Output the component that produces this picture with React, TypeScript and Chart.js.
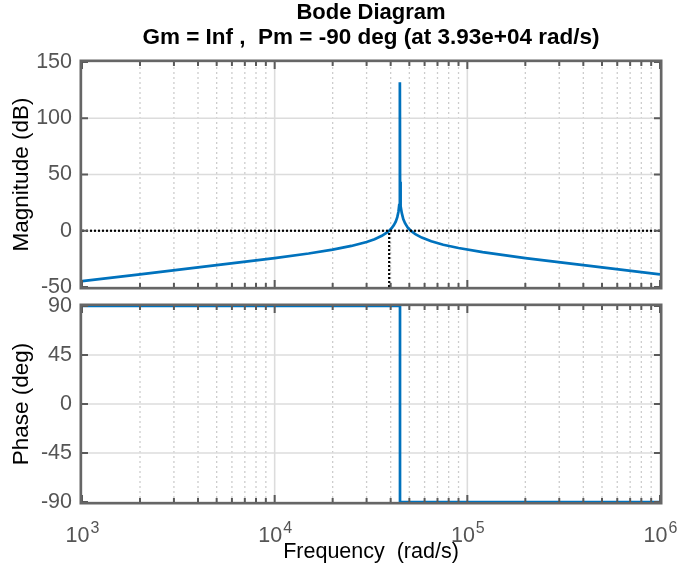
import React, { useEffect, useRef } from 'react';
import { Chart, registerables } from 'chart.js';

Chart.register(...registerables);

// ---------- data ----------
const magFreq = [
  1000, 2000, 5000, 10000, 15000, 20000, 25000, 30000, 33000, 36000, 38000, 39300,
  40500, 41500, 42500, 43300, 43900, 44300, 44550, 44680, 44721, 44760, 44900,
  45200, 45700, 46500, 47500, 49000, 51000, 54000, 58000, 65000, 75000, 90000,
  120000, 200000, 500000, 1000000,
];
const magDb = [
  -44.7, -38.7, -30.6, -24.3, -20.2, -16.8, -13.5, -10.0, -7.5, -4.5, -2.0, 0.0,
  2.3, 4.8, 8.1, 12.1, 16.9, 22.7, 30.6, 42.9, 132.0, 43.5, 30.3,
  21.7, 15.6, 10.4, 6.7, 3.0, -0.1, -3.3, -6.1, -9.4, -12.4, -15.3,
  -19.0, -24.3, -32.6, -38.7,
];
const phaseFreq = [1000, 44721, 44721, 1000000];
const phaseDeg = [90, 90, -90, -90];
const zeroLineFreq = [1000, 1000000];
const zeroLineDb = [0, 0];
const crossFreq = [39300, 39300];
const crossDb = [-50, 0];

const decades = [1000, 10000, 100000, 1000000];
const decadeExponents = ['3', '4', '5', '6'];
const minorMultipliers = [2, 3, 4, 5, 6, 7, 8, 9];
const magRange = [-50, 150];
const magStep = 50;
const phaseRange = [-90, 90];
const phaseStep = 45;
const titleLines = ['Bode Diagram', 'Gm = Inf ,  Pm = -90 deg (at 3.93e+04 rad/s)'];
const magLabel = 'Magnitude (dB)';
const phaseLabel = 'Phase (deg)';
const freqLabel = 'Frequency  (rad/s)';

// ---------- styles ----------
const FONT = "'Liberation Sans', Arial, Helvetica, sans-serif";
const BLUE = '#0072BD';
const TICK_COLOR = '#555555';
const BOX_COLOR = '#666666';

const toPts = (xs: number[], ys: number[]) => xs.map((x, i) => ({ x, y: ys[i] }));

const framePlugin = {
  id: 'frame',
  beforeDatasetsDraw(chart: any) {
    const { ctx, chartArea: a, scales } = chart;
    const x = scales.x;
    const y = scales.y;
    ctx.save();
    // minor dotted grid
    ctx.strokeStyle = '#cdcdcd';
    ctx.lineWidth = 1.3;
    ctx.setLineDash([2, 3]);
    for (const d of decades.slice(0, -1)) {
      for (const m of minorMultipliers) {
        const px = x.getPixelForValue(d * m);
        ctx.beginPath();
        ctx.moveTo(px, a.top);
        ctx.lineTo(px, a.bottom);
        ctx.stroke();
      }
    }
    // major grid
    ctx.setLineDash([]);
    ctx.strokeStyle = '#dcdcdc';
    ctx.lineWidth = 1.6;
    for (const d of decades) {
      const px = x.getPixelForValue(d);
      ctx.beginPath();
      ctx.moveTo(px, a.top);
      ctx.lineTo(px, a.bottom);
      ctx.stroke();
    }
    for (const t of y.ticks) {
      const py = y.getPixelForValue(t.value);
      ctx.beginPath();
      ctx.moveTo(a.left, py);
      ctx.lineTo(a.right, py);
      ctx.stroke();
    }
    ctx.restore();
  },
  afterDatasetsDraw(chart: any) {
    const { ctx, chartArea: a, scales } = chart;
    const x = scales.x;
    const y = scales.y;
    ctx.save();
    ctx.strokeStyle = '#5a5a5a';
    ctx.lineWidth = 2;
    const seg = (x1: number, y1: number, x2: number, y2: number) => {
      ctx.beginPath();
      ctx.moveTo(x1, y1);
      ctx.lineTo(x2, y2);
      ctx.stroke();
    };
    for (const t of y.ticks) {
      const py = y.getPixelForValue(t.value);
      seg(a.left, py, a.left + 6, py);
      seg(a.right - 6, py, a.right, py);
    }
    for (const d of decades) {
      const px = x.getPixelForValue(d);
      seg(px, a.top, px, a.top + 7);
      seg(px, a.bottom - 7, px, a.bottom);
    }
    for (const d of decades.slice(0, -1)) {
      for (const m of minorMultipliers) {
        const px = x.getPixelForValue(d * m);
        seg(px, a.top, px, a.top + 4);
        seg(px, a.bottom - 4, px, a.bottom);
      }
    }
    ctx.strokeStyle = BOX_COLOR;
    ctx.lineWidth = 2.5;
    ctx.strokeRect(a.left - 1.25, a.top - 1.25, a.width + 2.5, a.height + 2.5);
    ctx.restore();
  },
};

const titlePlugin = {
  id: 'bodeTitle',
  afterDraw(chart: any) {
    const { ctx, chartArea: a } = chart;
    const cx = (a.left + a.right) / 2;
    ctx.save();
    ctx.fillStyle = '#000';
    ctx.font = `bold 22px ${FONT}`;
    ctx.textAlign = 'center';
    ctx.textBaseline = 'middle';
    ctx.fillText(titleLines[0], cx, 13);
    ctx.font = `bold 22.5px ${FONT}`;
    ctx.fillText(titleLines[1], cx, 38);
    ctx.restore();
  },
};

const xLabelsPlugin = {
  id: 'xLabels',
  afterDraw(chart: any) {
    const { ctx, chartArea: a, scales } = chart;
    const x = scales.x;
    ctx.save();
    ctx.fillStyle = TICK_COLOR;
    ctx.textBaseline = 'alphabetic';
    ctx.textAlign = 'left';
    const baseFont = `21.5px ${FONT}`;
    const expFont = `16px ${FONT}`;
    decades.forEach((d, i) => {
      const px = x.getPixelForValue(d);
      ctx.font = baseFont;
      const wb = ctx.measureText('10').width;
      ctx.font = expFont;
      const we = ctx.measureText(decadeExponents[i]).width;
      const left = px - (wb + we) / 2;
      ctx.font = baseFont;
      ctx.fillText('10', left, a.bottom + 40);
      ctx.font = expFont;
      ctx.fillText(decadeExponents[i], left + wb + 1, a.bottom + 31);
    });
    ctx.fillStyle = '#000';
    ctx.font = `21.5px ${FONT}`;
    ctx.textAlign = 'center';
    ctx.fillText(freqLabel, (a.left + a.right) / 2, a.bottom + 56);
    ctx.restore();
  },
};

const yAxis = (range: number[], step: number, label: string) => ({
  type: 'linear',
  min: range[0],
  max: range[1],
  ticks: {
    stepSize: step,
    color: TICK_COLOR,
    font: { family: FONT, size: 21.5 },
    padding: 10,
  },
  grid: { display: false, drawTicks: false },
  border: { display: false },
  title: {
    display: true,
    text: label,
    color: '#000',
    font: { family: FONT, size: 22.5 },
    padding: { top: 8, bottom: 0 },
  },
  afterFit: (s: any) => {
    s.width = 82;
    s.paddingTop = 0;
    s.paddingBottom = 0;
  },
});

const xAxis = {
  type: 'logarithmic',
  min: 1000,
  max: 1000000,
  display: false,
};

const lineDs = (data: any[], color: string, width: number, dash: number[]) => ({
  data,
  borderColor: color,
  backgroundColor: color,
  borderWidth: width,
  borderDash: dash,
  pointRadius: 0,
  tension: 0,
  fill: false,
});

export default function App() {
  const topRef = useRef<HTMLCanvasElement>(null);
  const botRef = useRef<HTMLCanvasElement>(null);

  useEffect(() => {
    const common = {
      animation: false,
      responsive: false,
      devicePixelRatio: 1,
      events: [],
    };
    const c1 = new Chart(topRef.current as HTMLCanvasElement, {
      type: 'line',
      data: {
        datasets: [
          lineDs(toPts(zeroLineFreq, zeroLineDb), '#000', 2.2, [2, 2]),
          lineDs(toPts(crossFreq, crossDb), '#000', 2.2, [2, 2]),
          lineDs(toPts(magFreq, magDb), BLUE, 2.7, []),
        ],
      },
      options: {
        ...common,
        layout: { padding: { top: 62, right: 18, bottom: 13, left: 0 }, autoPadding: false },
        plugins: { legend: { display: false }, tooltip: { enabled: false }, title: { display: false } },
        scales: { x: xAxis, y: yAxis(magRange, magStep, magLabel) },
      } as any,
      plugins: [framePlugin, titlePlugin],
    } as any);
    const c2 = new Chart(botRef.current as HTMLCanvasElement, {
      type: 'line',
      data: {
        datasets: [lineDs(toPts(phaseFreq, phaseDeg), BLUE, 2.7, [])],
      },
      options: {
        ...common,
        layout: { padding: { top: 16, right: 18, bottom: 69, left: 0 }, autoPadding: false },
        plugins: { legend: { display: false }, tooltip: { enabled: false }, title: { display: false } },
        scales: { x: xAxis, y: yAxis(phaseRange, phaseStep, phaseLabel) },
      } as any,
      plugins: [framePlugin, xLabelsPlugin],
    } as any);
    return () => {
      c1.destroy();
      c2.destroy();
    };
  }, []);

  return (
    <div style={{ position: 'absolute', left: 0, top: 0, width: 678, height: 571, background: '#fff' }}>
      <canvas ref={topRef} width={678} height={300} style={{ position: 'absolute', left: 0, top: 0 }} />
      <canvas ref={botRef} width={678} height={281} style={{ position: 'absolute', left: 0, top: 290 }} />
    </div>
  );
}
